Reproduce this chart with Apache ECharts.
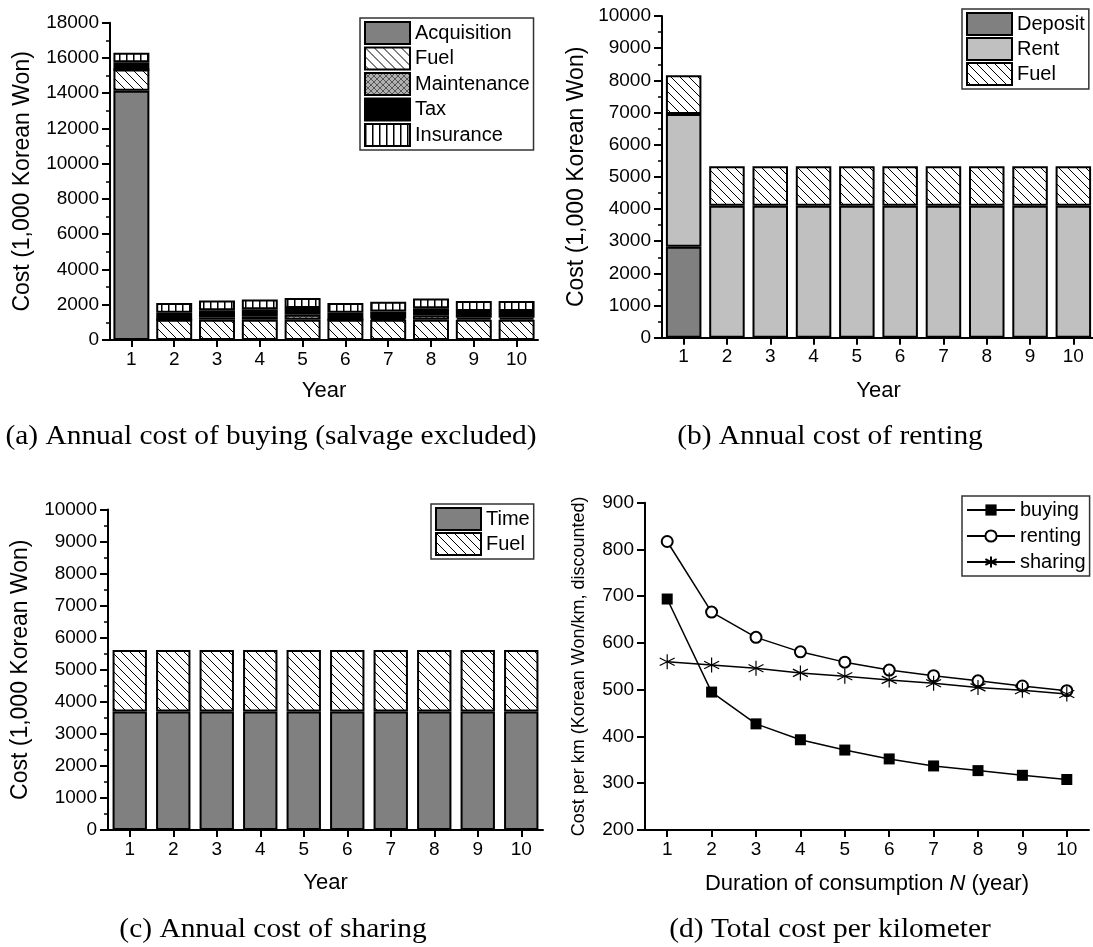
<!DOCTYPE html>
<html>
<head>
<meta charset="utf-8">
<script src="https://cdn.jsdelivr.net/npm/echarts@6/dist/echarts.min.js"></script>
<style>
html,body{margin:0;padding:0;background:#fff;}
#chart{width:1093px;height:947px;}
</style>
</head>
<body>
<div id="chart"></div>
<script>
// ---------------- data ----------------
const years = ['1','2','3','4','5','6','7','8','9','10'];

// (a) Annual cost of buying (1,000 KRW)
const buyAcquisition = [14140, null, null, null, null, null, null, null, null, null];
const buyFuel        = [1210, 1150, 1150, 1150, 1150, 1150, 1150, 1150, 1150, 1150];
const buyMaintenance = [0, 0, 146, 200, 280, 0, 70, 260, 110, 110];
const buyTax         = [400, 390, 390, 390, 390, 390, 390, 390, 390, 390];
const buyInsurance   = [550, 560, 560, 560, 560, 560, 560, 560, 560, 560];

// (b) Annual cost of renting
const rentDeposit = [2830, null, null, null, null, null, null, null, null, null];
const rentRent    = [4120, 4100, 4100, 4100, 4100, 4100, 4100, 4100, 4100, 4100];
const rentFuel    = [1210, 1230, 1230, 1230, 1230, 1230, 1230, 1230, 1230, 1230];

// (c) Annual cost of sharing
const shareTime = [3700, 3700, 3700, 3700, 3700, 3700, 3700, 3700, 3700, 3700];
const shareFuel = [1920, 1920, 1920, 1920, 1920, 1920, 1920, 1920, 1920, 1920];

// (d) Total cost per km
const perKmBuying  = [694, 495, 427, 393, 371, 352, 337, 327, 317, 308];
const perKmRenting = [817, 666, 612, 581, 559, 542, 530, 519, 508, 498];
const perKmSharing = [560, 553, 546, 536, 529, 521, 514, 505, 499, 491];

// ---------------- patterns ----------------
function makePattern(size, bg, draw) {
  const c = document.createElement('canvas');
  c.width = size; c.height = size;
  const g = c.getContext('2d');
  if (bg) { g.fillStyle = bg; g.fillRect(0, 0, size, size); }
  draw(g, size);
  return { image: c, repeat: 'repeat' };
}
const fuelPattern = makePattern(9, '#ffffff', (g, s) => {
  g.strokeStyle = '#000'; g.lineWidth = 1;
  g.beginPath();
  g.moveTo(-1, -1); g.lineTo(s + 1, s + 1);
  g.moveTo(-1, s - 1); g.lineTo(1, s + 1);
  g.moveTo(s - 1, -1); g.lineTo(s + 1, 1);
  g.stroke();
});
const maintPattern = makePattern(6, '#b0b0b0', (g, s) => {
  g.strokeStyle = '#555'; g.lineWidth = 1;
  g.beginPath();
  g.moveTo(-1, -1); g.lineTo(s + 1, s + 1);
  g.moveTo(-1, s + 1); g.lineTo(s + 1, -1);
  g.stroke();
});
const insPattern = makePattern(7, '#ffffff', (g, s) => {
  g.strokeStyle = '#000'; g.lineWidth = 1.5;
  g.beginPath();
  g.moveTo(0.75, 0); g.lineTo(0.75, s);
  g.stroke();
});

const FONT = 'Liberation Sans, Arial, sans-serif';
const border = { borderColor: '#000', borderWidth: 2 };

function yAxisCfg(idx, min, max, interval, name, gap, minor, nameSize) {
  return {
    type: 'value', gridIndex: idx, min: min, max: max, interval: interval,
    name: name, nameLocation: 'middle', nameGap: gap,
    nameTextStyle: { fontSize: nameSize || 23, color: '#000', fontFamily: FONT },
    axisLine: { show: true, lineStyle: { color: '#000', width: 2 } },
    axisTick: { show: true, length: 8, lineStyle: { color: '#000', width: 2 } },
    minorTick: { show: minor, splitNumber: 2, length: 4, lineStyle: { color: '#000', width: 1.5 } },
    splitLine: { show: false },
    axisLabel: { fontSize: 19, color: '#000', margin: 11, fontFamily: FONT,
                 formatter: function (v) { return String(v); } }
  };
}
function xAxisCfg(idx, name, gap, rich) {
  const ax = {
    type: 'category', gridIndex: idx, data: years,
    name: name, nameLocation: 'middle', nameGap: gap,
    nameTextStyle: { fontSize: 22, color: '#000', fontFamily: FONT },
    axisLine: { show: true, lineStyle: { color: '#000', width: 2 } },
    axisTick: { show: true, alignWithLabel: true, length: 7, lineStyle: { color: '#000', width: 2 } },
    axisLabel: { fontSize: 19, color: '#000', margin: 10, fontFamily: FONT },
    splitLine: { show: false }
  };
  if (rich) ax.nameTextStyle.rich = rich;
  return ax;
}
function bar(name, data, x, stack, color, gap) {
  return {
    type: 'bar', name: name, data: data, xAxisIndex: x, yAxisIndex: x,
    stack: stack, barCategoryGap: gap,
    itemStyle: Object.assign({ color: color }, border),
    emphasis: { disabled: true }, animation: false
  };
}
function legendCfg(left, top, names, itemHeight, gap, width, icon) {
  const lg = {
    left: left, top: top, orient: 'vertical', data: names,
    itemWidth: width || 45, itemHeight: itemHeight, itemGap: gap,
    padding: [3, 4, 3, 4],
    borderColor: '#333', borderWidth: 1.5,
    textStyle: { fontSize: 20, lineHeight: 22, color: '#000', fontFamily: FONT },
    selectedMode: false
  };
  if (icon) lg.icon = icon;
  return lg;
}

const asterisk = 'path://M5,0L5,10M0.67,2.5L9.33,7.5M0.67,7.5L9.33,2.5';

const captionStyle = (x, y, text) => ({
  type: 'text', x: x, y: y, scaleX: 1.09,
  style: { text: text, x: 0, y: 0, align: 'center', verticalAlign: 'middle',
           fontSize: 27, fontFamily: 'Liberation Serif, Times New Roman, serif', fill: '#000' }
});

const option = {
  animation: false,
  backgroundColor: '#fff',
  textStyle: { fontFamily: FONT },
  grid: [
    { left: 110, top: 22.7, width: 428, height: 317.3, containLabel: false, outerBoundsMode: 'none' },
    { left: 662, top: 16, width: 433, height: 321.7, containLabel: false, outerBoundsMode: 'none' },
    { left: 108, top: 509.5, width: 435, height: 320.5, containLabel: false, outerBoundsMode: 'none' },
    { left: 645, top: 502.7, width: 444, height: 327.3, containLabel: false, outerBoundsMode: 'none' }
  ],
  xAxis: [
    xAxisCfg(0, 'Year', 40),
    xAxisCfg(1, 'Year', 42),
    xAxisCfg(2, 'Year', 42),
    xAxisCfg(3, 'Duration of consumption {i|N} (year)', 43,
      { i: { fontStyle: 'italic', fontSize: 22, color: '#000', fontFamily: FONT } })
  ],
  yAxis: [
    yAxisCfg(0, 0, 18000, 2000, 'Cost (1,000 Korean Won)', 76, true),
    yAxisCfg(1, 0, 10000, 1000, 'Cost (1,000 Korean Won)', 74, true),
    yAxisCfg(2, 0, 10000, 1000, 'Cost (1,000 Korean Won)', 76, true),
    yAxisCfg(3, 200, 900, 100, 'Cost per km (Korean Won/km, discounted)', 57, false, 18)
  ],
  legend: [
    legendCfg(360, 18, ['Acquisition', 'Fuel', 'Maintenance', 'Tax', 'Insurance'], 22, 1.5, 45, 'rect'),
    legendCfg(962, 9, ['Deposit', 'Rent', 'Fuel'], 22, 1, 45, 'rect'),
    legendCfg(431, 504, ['Time', 'Fuel'], 22, 1, 45, 'rect'),
    legendCfg(962, 496, ['buying', 'renting', 'sharing'], 14, 4, 48)
  ],
  graphic: [
    captionStyle(271, 437, '(a) Annual cost of buying (salvage excluded)'),
    captionStyle(830, 437, '(b) Annual cost of renting'),
    captionStyle(273, 930, '(c) Annual cost of sharing'),
    captionStyle(830, 930, '(d) Total cost per kilometer')
  ],
  series: [
    bar('Acquisition', buyAcquisition, 0, 'a', '#808080', '16%'),
    bar('Fuel', buyFuel, 0, 'a', fuelPattern, '16%'),
    bar('Maintenance', buyMaintenance, 0, 'a', maintPattern, '16%'),
    bar('Tax', buyTax, 0, 'a', '#000000', '16%'),
    bar('Insurance', buyInsurance, 0, 'a', insPattern, '16%'),

    bar('Deposit', rentDeposit, 1, 'b', '#808080', '18%'),
    bar('Rent', rentRent, 1, 'b', '#c0c0c0', '18%'),
    bar('Fuel', rentFuel, 1, 'b', fuelPattern, '18%'),

    bar('Time', shareTime, 2, 'c', '#808080', '21%'),
    bar('Fuel', shareFuel, 2, 'c', fuelPattern, '21%'),

    {
      type: 'line', name: 'buying', data: perKmBuying, xAxisIndex: 3, yAxisIndex: 3,
      symbol: 'rect', symbolSize: 11, showAllSymbol: true,
      itemStyle: { color: '#000' }, lineStyle: { color: '#000', width: 1.5 },
      emphasis: { disabled: true }
    },
    {
      type: 'line', name: 'renting', data: perKmRenting, xAxisIndex: 3, yAxisIndex: 3,
      symbol: 'emptyCircle', symbolSize: 11, showAllSymbol: true,
      itemStyle: { color: '#000', borderColor: '#000', borderWidth: 1.2 },
      lineStyle: { color: '#000', width: 1.5 },
      emphasis: { disabled: true }
    },
    {
      type: 'line', name: 'sharing', data: perKmSharing, xAxisIndex: 3, yAxisIndex: 3,
      symbol: asterisk, symbolSize: 15, showAllSymbol: true,
      itemStyle: { color: '#000', borderColor: '#000', borderWidth: 1.2 },
      lineStyle: { color: '#000', width: 1.5 },
      emphasis: { disabled: true }
    }
  ]
};

const chart = echarts.init(document.getElementById('chart'), null, { renderer: 'canvas' });
chart.setOption(option);
</script>
</body>
</html>
